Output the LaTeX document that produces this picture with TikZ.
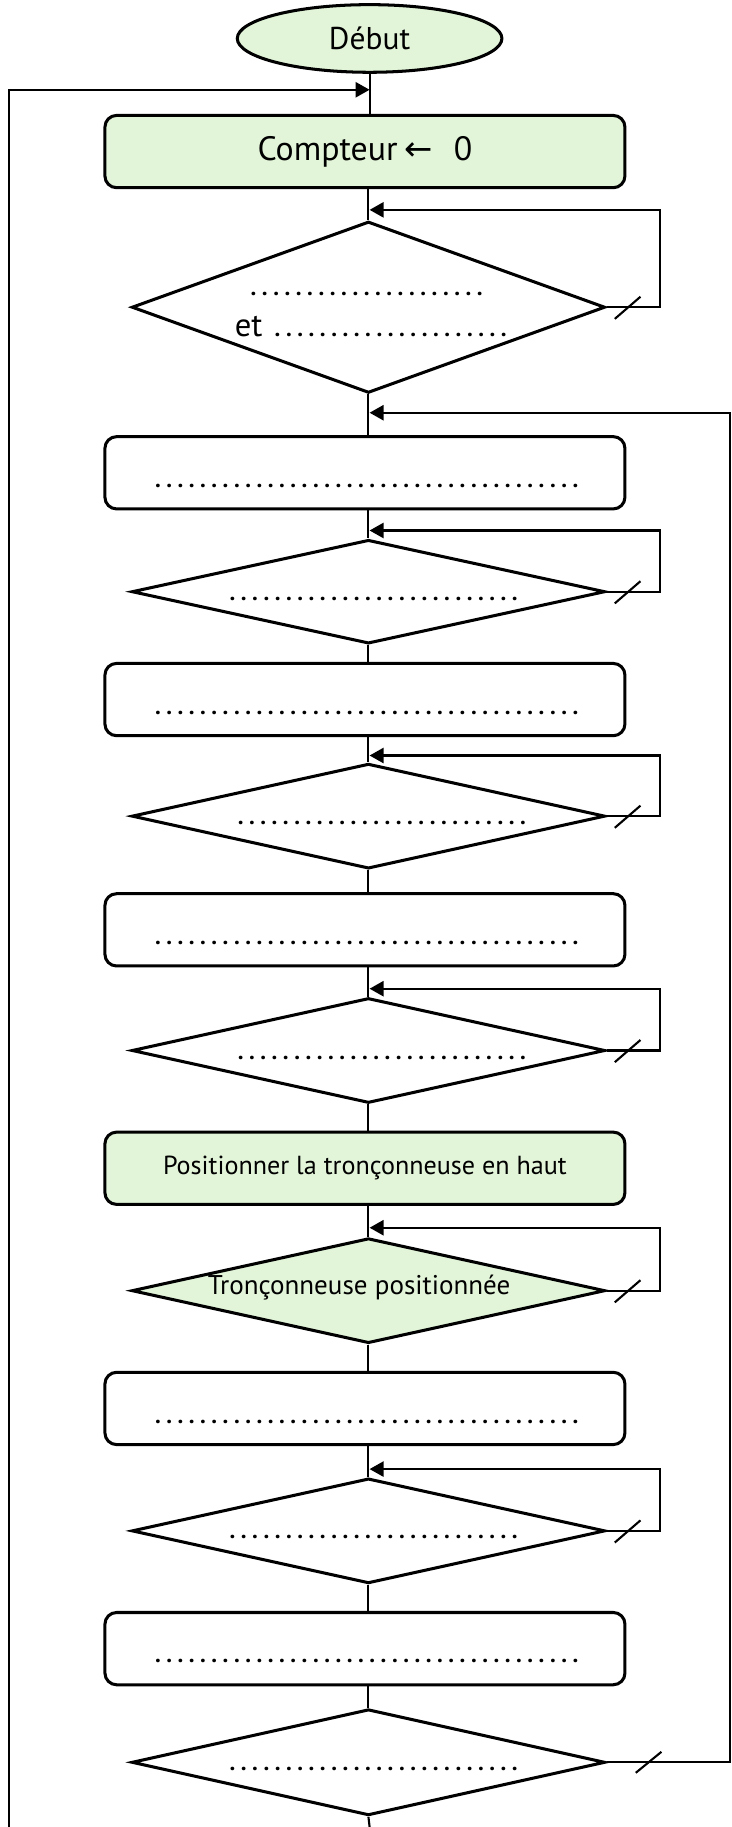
\documentclass[tikz,border=0pt]{standalone}
\usepackage{fontspec}
\setmainfont{PT Sans}
\newfontfamily\symfont{DejaVu Sans}
\usetikzlibrary{shapes.geometric,arrows.meta}
\definecolor{stepgreen}{RGB}{226,245,217}
% a row of evenly spaced dots to be filled in by hand
\newcommand\pointille[1]{{\fontsize{10}{10}\bfseries\selectfont\hbox to #1{\xleaders\hbox to 4.75pt{\hss.\hss}\hfill}}}
\begin{document}
\begin{tikzpicture}[x=0.5pt,y=-0.5pt,
  startstop/.style={ellipse, draw, fill=stepgreen, line width=1.3pt,
    minimum width=113.5pt, minimum height=29pt, inner sep=0pt, font=\fontsize{13.5}{15}\selectfont},
  stepbox/.style={rectangle, rounded corners=5pt, draw, line width=1.3pt,
    minimum width=223pt, minimum height=31pt, inner sep=0pt},
  greenbox/.style={stepbox, fill=stepgreen},
  test/.style={diamond, draw, line width=1.3pt, minimum width=203pt, inner sep=0pt},
  txt/.style={inner sep=0pt},
  flow/.style={line width=0.9pt},
  back/.style={flow, -{Triangle[length=6pt,width=6.5pt]}},
  slash/.style={line width=0.9pt}]
\useasboundingbox (0,0) rectangle (627,1567);

% main column
\node[startstop] (start) at (317,33) {Début};
\node[greenbox, font=\fontsize{14.5}{16}\selectfont] (b1) at (313,130)
  {Compteur\hspace{3pt}{\symfont ←}\hspace{9pt}0};
\node[test, minimum height=73.5pt] (d1) at (316,263.5) {};
\node[stepbox] (b2) at (313,405.5) {};
\node[test, minimum height=44.5pt] (d2) at (316,507.5) {};
\node[stepbox] (b3) at (313,600) {};
\node[test, minimum height=45pt] (d3) at (316,700) {};
\node[stepbox] (b4) at (313,797.5) {};
\node[test, minimum height=45pt] (d4) at (316,901) {};
\node[greenbox, font=\fontsize{11.2}{13}\selectfont] (b5) at (313,1002)
  {Positionner la tronçonneuse en haut};
\node[test, fill=stepgreen, minimum height=45pt] (d5) at (316,1107) {};
\node[stepbox] (b6) at (313,1208) {};
\node[test, minimum height=45pt] (d6) at (316,1313) {};
\node[stepbox] (b7) at (313,1414) {};
\node[test, minimum height=45.5pt] (d7) at (316,1511.5) {};

% texts
\node[txt] (t1a) at (314.5,252) {\pointille{102pt}};
\node[txt, anchor=base west, font=\fontsize{14}{15}\selectfont] (t1b) at (201,289) {et\hspace{4pt}\pointille{102pt}};
\node[txt] (t2) at (314.5,417) {\pointille{184pt}};
\node[txt] (t3) at (320.5,513.5) {\pointille{126pt}};
\node[txt] (t4) at (314.5,611.5) {\pointille{184pt}};
\node[txt] (t5) at (327.5,706) {\pointille{126pt}};
\node[txt] (t6) at (314.5,809) {\pointille{184pt}};
\node[txt] (t7) at (327.5,907) {\pointille{126pt}};
\node[txt, font=\fontsize{11.6}{13}\selectfont] (t8) at (308,1104) {Tronçonneuse positionnée};
\node[txt] (t9) at (314.5,1219.5) {\pointille{184pt}};
\node[txt] (t10) at (320.5,1318.5) {\pointille{126pt}};
\node[txt] (t11) at (314.5,1425) {\pointille{184pt}};
\node[txt] (t12) at (320.5,1517) {\pointille{126pt}};

% junction points where the loops come back
\coordinate (jL) at (317,77);
\coordinate (j1) at (317,180);
\coordinate (jR) at (317,354);
\coordinate (j2) at (317,455);
\coordinate (j3) at (317,648);
\coordinate (j4) at (317,848);
\coordinate (j5) at (317,1053);
\coordinate (j6) at (317,1260);
\coordinate (endL) at (8,1567);
\coordinate (endC) at (317,1567);

% spine
\draw[flow] (start.south) -- (start.south |- b1.north);
\draw[flow] (b1.south -| d1.north) -- (d1.north);
\draw[flow] (d1.south) -- (d1.south |- b2.north);
\draw[flow] (b2.south -| d2.north) -- (d2.north);
\draw[flow] (d2.south) -- (d2.south |- b3.north);
\draw[flow] (b3.south -| d3.north) -- (d3.north);
\draw[flow] (d3.south) -- (d3.south |- b4.north);
\draw[flow] (b4.south -| d4.north) -- (d4.north);
\draw[flow] (d4.south) -- (d4.south |- b5.north);
\draw[flow] (b5.south -| d5.north) -- (d5.north);
\draw[flow] (d5.south) -- (d5.south |- b6.north);
\draw[flow] (b6.south -| d6.north) -- (d6.north);
\draw[flow] (d6.south) -- (d6.south |- b7.north);
\draw[flow] (b7.south -| d7.north) -- (d7.north);
\draw[flow] (d7.south) -- (endC);

% waiting loops
\foreach \d/\j in {d1/j1, d2/j2, d3/j3, d4/j4, d5/j5, d6/j6}{
  \draw[back] (\d.east) -- ++(46,0) |- (\j);
  \draw[slash] ([shift={(7,10)}]\d.east) -- ([shift={(29,-9)}]\d.east);
}
% outer loops
\draw[back] (d7.east) -- ++(106,0) |- (jR);
\draw[slash] ([shift={(25,9)}]d7.east) -- ([shift={(47,-9)}]d7.east);
\draw[back] (endL) |- (jL);
\end{tikzpicture}
\end{document}
